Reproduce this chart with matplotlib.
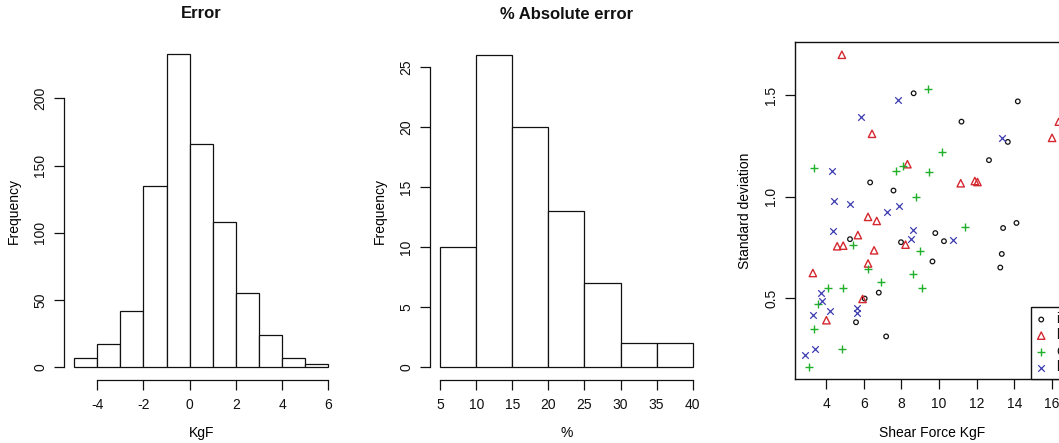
import matplotlib
matplotlib.use('Agg')
import matplotlib.pyplot as plt
import numpy as np

plt.rcParams['font.family'] = ['Liberation Sans', 'DejaVu Sans']
plt.rcParams['text.color'] = '#111111'
plt.rcParams['axes.unicode_minus'] = False

# Histogram of error (KgF)
err_edges = [-5, -4, -3, -2, -1, 0, 1, 2, 3, 4, 5, 6]
err_counts = [7, 17, 42, 135, 233, 166, 108, 55, 24, 7, 2]
err_xticks = [-4, -2, 0, 2, 4, 6]
err_yticks = [0, 50, 100, 150, 200]

# Histogram of % absolute error
pct_edges = [5, 10, 15, 20, 25, 30, 35, 40]
pct_counts = [10, 26, 20, 13, 7, 2, 2]
pct_xticks = [5, 10, 15, 20, 25, 30, 35, 40]
pct_yticks = [0, 5, 10, 15, 20, 25]

# Scatter: shear force vs standard deviation, four groups
g1_x = [8.65, 14.18, 11.19, 13.65, 12.65, 6.34, 7.58, 14.11, 13.40, 5.27,
        7.98, 9.80, 10.26, 9.65, 13.33, 13.25, 6.80, 6.05, 5.59, 7.19]
g1_y = [1.51, 1.47, 1.37, 1.27, 1.18, 1.07, 1.03, 0.87, 0.845, 0.79,
        0.775, 0.82, 0.78, 0.68, 0.717, 0.65, 0.526, 0.497, 0.38, 0.31]
g2_x = [4.84, 6.44, 16.36, 16.0, 8.32, 11.15, 11.90, 12.04, 6.23, 6.69,
        5.69, 4.59, 4.91, 6.55, 8.22, 6.23, 3.30, 5.94, 4.02]
g2_y = [1.70, 1.31, 1.37, 1.29, 1.16, 1.066, 1.077, 1.072, 0.90, 0.88,
        0.81, 0.755, 0.758, 0.735, 0.763, 0.67, 0.623, 0.495, 0.39]
g3_x = [9.40, 10.15, 3.38, 7.73, 8.07, 9.47, 8.76, 11.40, 5.44, 8.98,
        6.23, 8.62, 6.91, 4.09, 4.91, 9.12, 3.55, 3.34, 4.87, 3.09]
g3_y = [1.53, 1.22, 1.14, 1.125, 1.15, 1.12, 0.997, 0.85, 0.76, 0.73,
        0.643, 0.62, 0.577, 0.548, 0.548, 0.548, 0.47, 0.347, 0.25, 0.16]
g4_x = [7.83, 5.87, 13.33, 4.30, 4.41, 5.27, 7.87, 7.26, 4.37, 8.62,
        8.51, 10.72, 3.73, 3.80, 4.20, 3.30, 5.62, 5.66, 3.41, 2.89]
g4_y = [1.477, 1.395, 1.29, 1.125, 0.98, 0.964, 0.956, 0.923, 0.83, 0.834,
        0.79, 0.785, 0.525, 0.484, 0.437, 0.416, 0.45, 0.426, 0.247, 0.219]
group_labels = ['i', 'b', 'c', 'l']
sc_xticks = [4, 6, 8, 10, 12, 14, 16]
sc_yticks = [0.5, 1.0, 1.5]

W, H = 1059, 443
fig = plt.figure(figsize=(W / 100, H / 100), dpi=100)


def px_axes(left, right, top, bottom):
    return fig.add_axes([left / W, (H - bottom) / H, (right - left) / W, (bottom - top) / H])


def r_pad(lo, hi):
    d = (hi - lo) * 0.04
    return lo - d, hi + d


def style_ticks(ax):
    ax.tick_params(axis='both', direction='out', length=7, width=0.9, labelsize=10,
                   colors='#111111')
    ax.tick_params(axis='x', pad=6)
    ax.tick_params(axis='y', pad=5)
    for lab in ax.get_yticklabels():
        lab.set_rotation(90)
        lab.set_va('center')


def r_hist(ax, edges, counts, xticks, yticks, title, xlabel):
    ax.bar(edges[:-1], counts, width=np.diff(edges), align='edge',
           facecolor='white', edgecolor='#111111', linewidth=0.9)
    ax.set_xlim(*r_pad(edges[0], edges[-1]))
    ax.set_ylim(*r_pad(0, max(counts)))
    ax.set_xticks(xticks)
    ax.set_yticks(yticks)
    for s in ['top', 'right']:
        ax.spines[s].set_visible(False)
    ax.spines['bottom'].set_bounds(xticks[0], xticks[-1])
    ax.spines['left'].set_bounds(yticks[0], yticks[-1])
    for s in ['bottom', 'left']:
        ax.spines[s].set_linewidth(0.9)
        ax.spines[s].set_color('#111111')
    style_ticks(ax)
    ax.set_title(title, fontsize=12, fontweight='bold', y=1.084, va='center', pad=0)
    ax.set_xlabel(xlabel, fontsize=10, va='center')
    ax.set_ylabel('Frequency', fontsize=10, va='center')
    ax.xaxis.set_label_coords(0.5, -0.158)
    ax.yaxis.set_label_coords(-0.182, 0.5)


ax1 = px_axes(64, 338.5, 41.6, 379.5)
r_hist(ax1, err_edges, err_counts, err_xticks, err_yticks, 'Error', 'KgF')

ax2 = px_axes(430, 702.8, 42.5, 379.5)
r_hist(ax2, pct_edges, pct_counts, pct_xticks, pct_yticks, '% Absolute error', '%')

ax3 = px_axes(795, 1069, 42.3, 379.3)
h1 = ax3.scatter(g1_x, g1_y, marker='o', s=11, facecolors='none', edgecolors='#111111',
                 linewidths=0.9, label=group_labels[0])
h2 = ax3.scatter(g2_x, g2_y, marker='^', s=28, facecolors='none', edgecolors='#D42830',
                 linewidths=1.0, label=group_labels[1])
h3 = ax3.scatter(g3_x, g3_y, marker='+', s=40, color='#22B02A', linewidths=1.0,
                 label=group_labels[2])
h4 = ax3.scatter(g4_x, g4_y, marker='x', s=22, color='#3C3CB0', linewidths=0.9,
                 label=group_labels[3])
all_x = g1_x + g2_x + g3_x + g4_x
all_y = g1_y + g2_y + g3_y + g4_y
ax3.set_xlim(*r_pad(min(all_x), max(all_x)))
ax3.set_ylim(*r_pad(min(all_y), max(all_y)))
ax3.set_xticks(sc_xticks)
ax3.set_yticks(sc_yticks)
for s in ax3.spines.values():
    s.set_linewidth(1.0)
    s.set_color('#111111')
style_ticks(ax3)
ax3.set_xlabel('Shear Force KgF', fontsize=10, va='center')
ax3.set_ylabel('Standard deviation', fontsize=10, va='center')
ax3.xaxis.set_label_coords(0.5, -0.158)
ax3.yaxis.set_label_coords(-0.182, 0.5)
leg = ax3.legend(loc='lower right', borderaxespad=0, fancybox=False, edgecolor='#111111',
                 framealpha=1, fontsize=10, handlelength=0.8, handletextpad=0.7,
                 borderpad=0.35, labelspacing=0.15, scatterpoints=1)
leg.get_frame().set_linewidth(1.0)

fig.savefig('out.png', dpi=100)
